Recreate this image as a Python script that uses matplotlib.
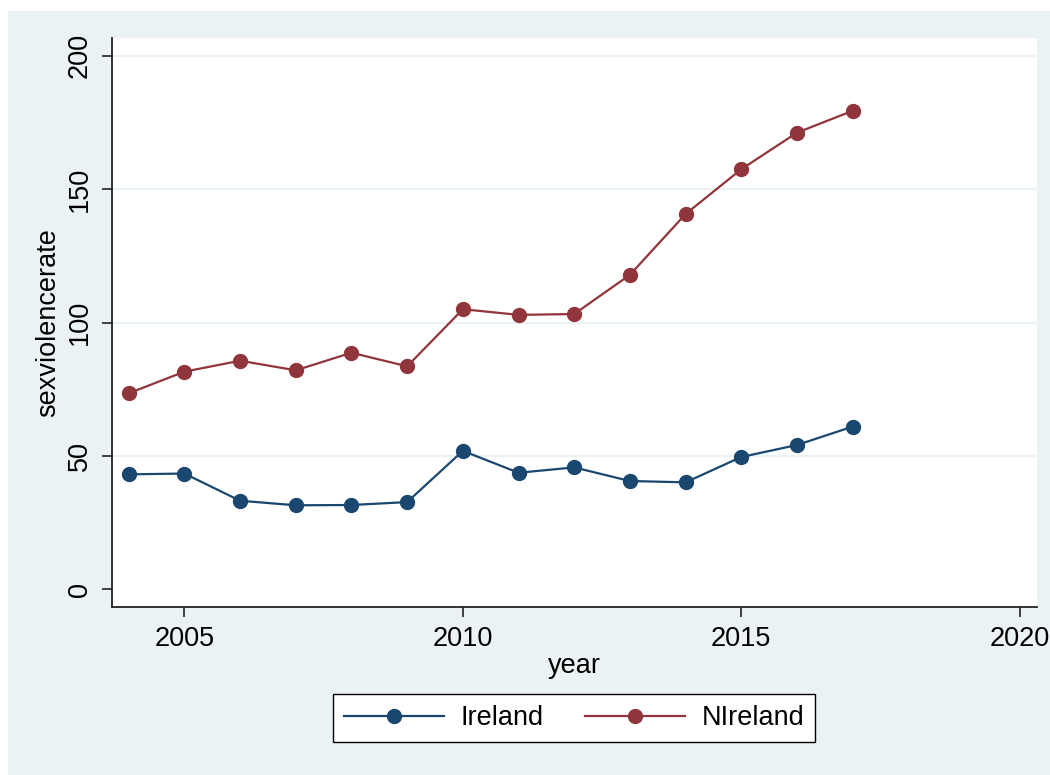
import matplotlib
matplotlib.use("Agg")
import matplotlib.pyplot as plt
from matplotlib.patches import Rectangle

years = [2004, 2005, 2006, 2007, 2008, 2009, 2010, 2011, 2012, 2013, 2014, 2015, 2016, 2017]
ireland = [43.1, 43.4, 33.2, 31.5, 31.6, 32.7, 51.9, 43.7, 45.7, 40.6, 40.1, 49.6, 54.1, 61.0]
nireland = [73.5, 81.6, 85.7, 82.1, 88.7, 83.6, 105.0, 102.9, 103.2, 117.9, 140.7, 157.5, 171.2, 179.4]
series_names = ["Ireland", "NIreland"]
x_ticks = [2005, 2010, 2015, 2020]
y_ticks = [0, 50, 100, 150, 200]

plt.rcParams["font.family"] = ["Liberation Sans", "DejaVu Sans"]

BG = "#eaf2f3"
NAVY = "#1a476f"
MAROON = "#90353b"
FS = 19.5

W, H = 1050, 775
fig = plt.figure(figsize=(W / 100, H / 100), dpi=100, facecolor="white")
fig.patches.append(Rectangle((8 / W, 0), 1 - 8 / W, 1 - 11 / H,
                             transform=fig.transFigure, facecolor=BG,
                             edgecolor="none", zorder=-10))

ax = fig.add_axes([112 / W, 1 - 606.5 / H, (1037 - 112) / W, (606.5 - 38) / H])
ax.set_facecolor("white")

for y in y_ticks[1:]:
    ax.axhline(y, color=BG, lw=1.6, zorder=0)

ax.plot(years, ireland, color=NAVY, lw=1.6, marker="o", ms=10,
        label=series_names[0], zorder=3)
ax.plot(years, nireland, color=MAROON, lw=1.6, marker="o", ms=10,
        label=series_names[1], zorder=3)

ax.set_xlim(2003.70, 2020.31)
ax.set_ylim(-6.45, 206.7)
ax.set_xticks(x_ticks)
ax.set_yticks(y_ticks)
ax.set_yticklabels([str(v) for v in y_ticks], rotation=90, va="center")

for s in ("top", "right"):
    ax.spines[s].set_visible(False)
for s in ("left", "bottom"):
    ax.spines[s].set_color("#222222")
    ax.spines[s].set_linewidth(1.3)

ax.tick_params(axis="both", labelsize=FS, colors="#222222", labelcolor="black",
               length=7, width=1.2, direction="out")
ax.tick_params(axis="y", pad=7)
ax.tick_params(axis="x", pad=7)

ax.set_xlabel("year", fontsize=FS, labelpad=1)
ax.set_ylabel("sexviolencerate", fontsize=FS, labelpad=4)

leg = fig.legend(loc="center", bbox_to_anchor=(574 / W, 1 - 718 / H),
                 ncol=2, fontsize=FS, frameon=True, fancybox=False,
                 edgecolor="black", facecolor="white", framealpha=1,
                 handlelength=3.7, handletextpad=0.6, columnspacing=1.55,
                 borderpad=0.4, markerscale=1.0)
leg.get_frame().set_linewidth(1.0)

fig.savefig("out.png", dpi=100, facecolor=fig.get_facecolor())
